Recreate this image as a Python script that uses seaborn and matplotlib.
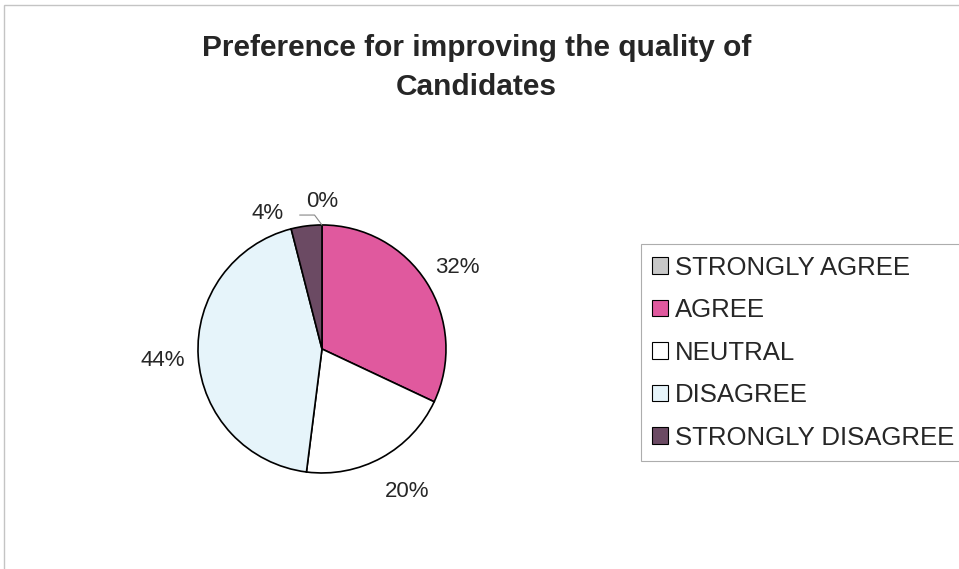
import numpy as np
import seaborn as sns
import matplotlib.pyplot as plt
from matplotlib.patches import Rectangle, Patch

categories = ["STRONGLY AGREE", "AGREE", "NEUTRAL", "DISAGREE", "STRONGLY DISAGREE"]
shares = [0, 32, 20, 44, 4]
colors = ["#c8c8c8", "#e0599e", "#ffffff", "#e6f4fa", "#6b4a63"]

sns.set_style("white")
plt.rcParams['font.family'] = ['Liberation Sans', 'DejaVu Sans']

fig = plt.figure(figsize=(9.59, 5.69), dpi=100)

# faint frame from the scan
fig.patches.append(Rectangle((0.004, -0.05), 1.1, 0.042 + 1.0, transform=fig.transFigure,
                             fill=False, edgecolor="#c4c4c4", lw=1.0))

fig.text(0.497, 0.881, "Preference for improving the quality of\nCandidates",
         ha="center", va="center", fontsize=21.5, fontweight="bold", linespacing=1.5)

ax = fig.add_axes([0.1418, 0.0598, 0.3879, 0.6538])
wedges, texts = ax.pie(shares, colors=colors, startangle=90, counterclock=False,
                       wedgeprops=dict(edgecolor="black", linewidth=1.2))
ax.set_xlim(-1.5, 1.5)
ax.set_ylim(-1.5, 1.5)
ax.set_aspect("equal")
ax.axis("off")

# percentage labels placed around the rim
label_pos = {0: (90, 1.19), 1: (31, 1.27), 2: (-59, 1.34), 3: (184, 1.29), 4: (112, 1.18)}
for i, v in enumerate(shares):
    ang, d = label_pos[i]
    x, y = d * np.cos(np.radians(ang)), d * np.sin(np.radians(ang))
    ax.text(x, y, f"{v}%", ha="center", va="center", fontsize=16)
# leader line for the 0% slice
ax.plot([0.0, -0.06, -0.18], [1.0, 1.08, 1.08], color="#888888", lw=0.8)

handles = [Patch(facecolor=c, edgecolor="black", linewidth=0.8) for c in colors]
leg = fig.legend(handles, categories, loc="upper left", bbox_to_anchor=(0.668, 0.571),
                 fontsize=18.5, frameon=True, fancybox=False, handlelength=0.6,
                 handleheight=0.6, handletextpad=0.3, labelspacing=0.72,
                 borderpad=0.45, borderaxespad=0)
leg.get_frame().set_edgecolor("#999999")
leg.get_frame().set_linewidth(0.8)

fig.savefig("out.png", dpi=100)
